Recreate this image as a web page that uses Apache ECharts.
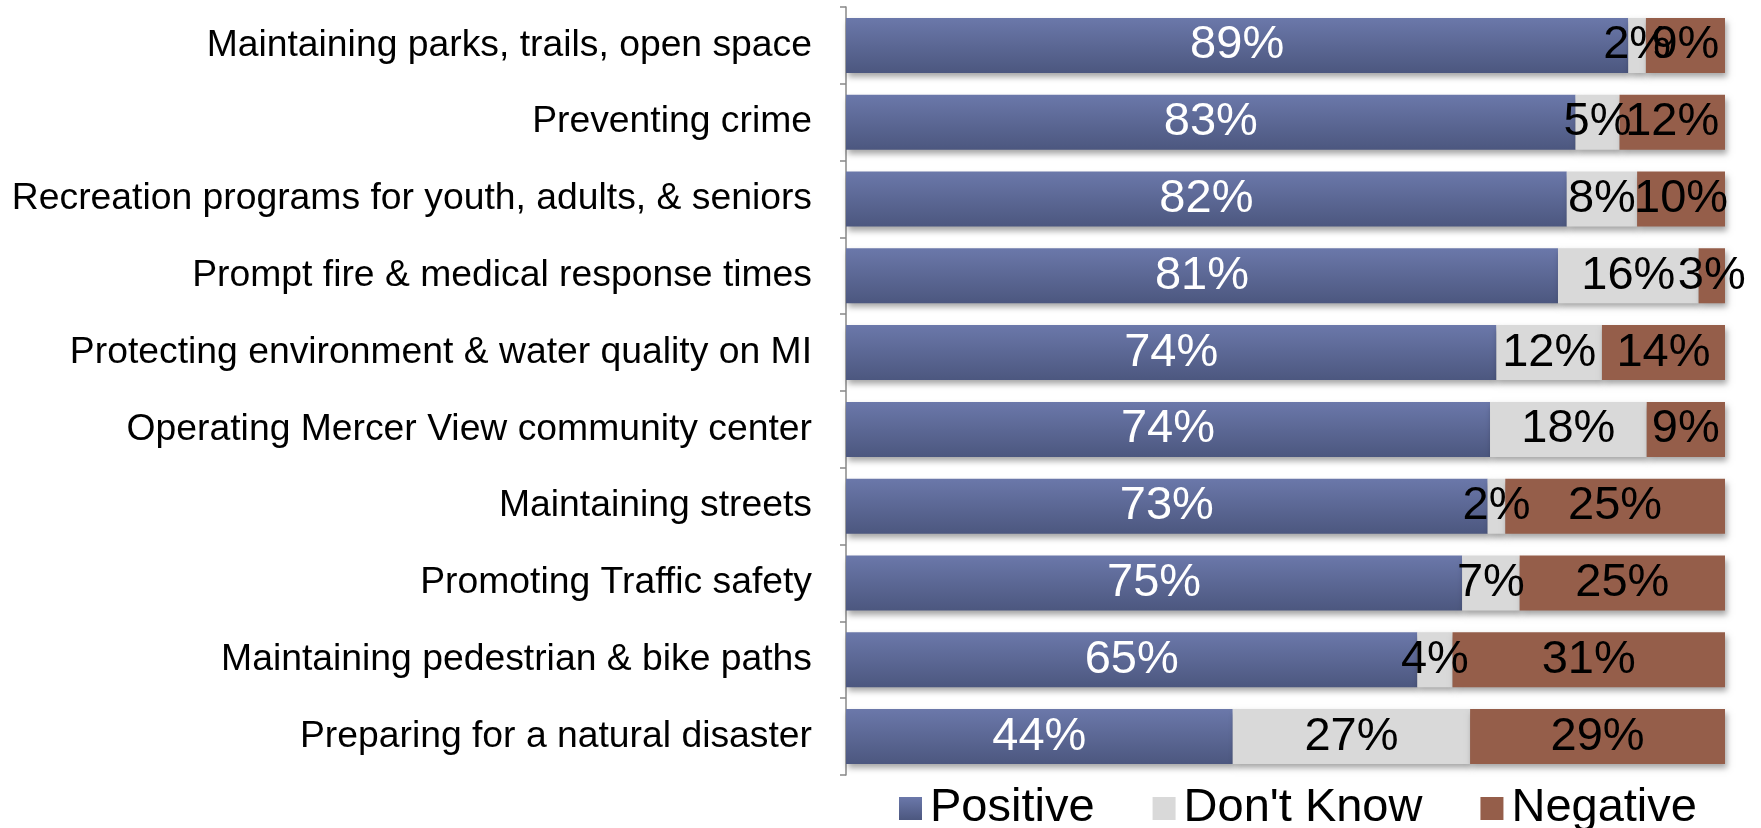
<!DOCTYPE html>
<html>
<head>
<meta charset="utf-8">
<script src="https://cdn.jsdelivr.net/npm/echarts@6/dist/echarts.min.js"></script>
<style>
  html, body { margin: 0; padding: 0; background: #fff; }
  #main { width: 1761px; height: 828px; }
</style>
</head>
<body>
<div id="main"></div>
<script>
    // 数据
    const categories = [
        'Maintaining parks, trails, open space',
        'Preventing crime',
        'Recreation programs for youth, adults, & seniors',
        'Prompt fire & medical response times',
        'Protecting environment & water quality on MI',
        'Operating Mercer View community center',
        'Maintaining streets',
        'Promoting Traffic safety',
        'Maintaining pedestrian & bike paths',
        'Preparing for a natural disaster'
    ];
    const positive = [89, 83, 82, 81, 74, 74, 73, 75, 65, 44];
    const dontKnow = [2, 5, 8, 16, 12, 18, 2, 7, 4, 27];
    const negative = [9, 12, 10, 3, 14, 9, 25, 25, 31, 29];

    // 每行按100%堆叠
    const totals = positive.map((v, i) => v + dontKnow[i] + negative[i]);
    const share = arr => arr.map((v, i) => v / totals[i] * 100);

    const font = 'Liberation Sans, Arial, sans-serif';
    const shadow = {
        shadowColor: 'rgba(0,0,0,0.35)',
        shadowBlur: 6,
        shadowOffsetX: 2,
        shadowOffsetY: 4
    };

    function makeSeries(name, raw, color, labelColor) {
        return {
            name: name,
            type: 'bar',
            stack: 'all',
            barWidth: 55,
            data: share(raw),
            itemStyle: Object.assign({ color: color }, shadow),
            label: {
                show: true,
                position: 'inside',
                color: labelColor,
                fontFamily: font,
                fontSize: 47,
                formatter: p => raw[p.dataIndex] + '%'
            },
            emphasis: { disabled: true }
        };
    }

    const posColor = new echarts.graphic.LinearGradient(0, 0, 0, 1, [
        { offset: 0, color: '#6b78aa' },
        { offset: 1, color: '#4c577f' }
    ]);

    let myChart = echarts.init(document.getElementById('main'));
    let option = {
        animation: false,
        grid: { left: 846, right: 36, top: 7, bottom: 53 },
        legend: {
            left: 894,
            top: 780,
            itemWidth: 23,
            itemHeight: 23,
            itemGap: 58,
            icon: 'rect',
            textStyle: { fontFamily: font, fontSize: 47, color: '#000', padding: [0, 0, 0, 3] },
            data: ['Positive', "Don't Know", 'Negative']
        },
        xAxis: {
            type: 'value',
            min: 0,
            max: 100,
            show: false
        },
        yAxis: {
            type: 'category',
            inverse: true,
            data: categories,
            axisLine: { show: true, lineStyle: { color: '#888', width: 1.5 } },
            axisTick: { show: true, length: 6, lineStyle: { color: '#888', width: 1.5 } },
            axisLabel: { color: '#000', fontFamily: font, fontSize: 37.3, margin: 34 }
        },
        series: [
            makeSeries('Positive', positive, posColor, '#fff'),
            makeSeries("Don't Know", dontKnow, '#d9d9d9', '#000'),
            makeSeries('Negative', negative, '#955e4a', '#000')
        ]
    };
    myChart.setOption(option);
</script>
</body>
</html>
